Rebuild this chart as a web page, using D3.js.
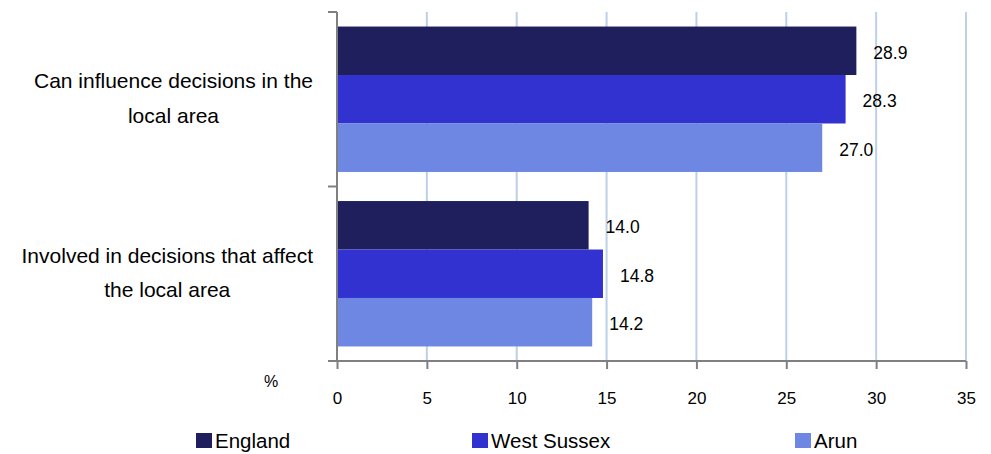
<!DOCTYPE html>
<html>
<head>
<meta charset="utf-8">
<script src="https://cdn.jsdelivr.net/npm/d3@7"></script>
<style>
  body { margin: 0; background: #fff; }
  text { font-family: "Liberation Sans", Arial, sans-serif; fill: #000; }
</style>
</head>
<body>
<div id="chart"></div>
<script>
// chart data
const categories = [
  ["Can influence decisions in the", "local area"],
  ["Involved in decisions that affect", "the local area"]
];
const seriesNames = ["England", "West Sussex", "Arun"];
const england = [28.9, 14.0];
const westSussex = [28.3, 14.8];
const arun = [27.0, 14.2];
const xTicks = [0, 5, 10, 15, 20, 25, 30, 35];
const colors = ["#1f1f5e", "#3232d0", "#6d87e3"];

const width = 991, height = 454;
const margin = {top: 12, left: 337, right: 25, bottom: 93};

let svg = d3.select("#chart").append("svg")
    .attr("width", width)
    .attr("height", height);

let x = d3.scaleLinear()
    .domain([0, 35])
    .range([margin.left, width - margin.right]);

let y = d3.scaleBand()
    .domain(d3.range(categories.length))
    .range([margin.top, height - margin.bottom])
    .paddingInner(0)
    .paddingOuter(0);

let inner = d3.scaleBand()
    .domain(d3.range(seriesNames.length))
    .range([0, y.bandwidth()])
    .paddingOuter(0.3)
    .paddingInner(0);

// gridlines
svg.selectAll(".grid")
    .data(xTicks.slice(1))
    .enter().append("line")
    .attr("x1", d => x(d)).attr("x2", d => x(d))
    .attr("y1", margin.top).attr("y2", height - margin.bottom)
    .attr("stroke", "#bcd0e8")
    .attr("stroke-width", 2);

// bars
let allSeries = [england, westSussex, arun];
categories.forEach((c, ci) => {
    allSeries.forEach((s, si) => {
        let y0 = y(ci) + inner(si);
        svg.append("rect")
            .attr("x", x(0))
            .attr("y", y0)
            .attr("width", x(s[ci]) - x(0))
            .attr("height", inner.bandwidth())
            .attr("fill", colors[si]);
        svg.append("text")
            .attr("x", x(s[ci]) + 17)
            .attr("y", y0 + inner.bandwidth() / 2 + 8)
            .attr("font-size", 17.5)
            .text(s[ci].toFixed(1));
    });
    // category label, wrapped block with right edge near the axis
    let lab = svg.append("text")
        .attr("text-anchor", "middle")
        .attr("font-size", 21);
    let spans = c.map((line, li) => lab.append("tspan")
        .attr("y", y(ci) + y.bandwidth() / 2 - 11 + li * 34.5)
        .text(line));
    let maxW = d3.max(spans, s => s.node().getComputedTextLength());
    spans.forEach(s => s.attr("x", 313 - maxW / 2));
});

// x axis
let xAxis = svg.append("g")
    .attr("transform", `translate(0,${height - margin.bottom})`)
    .call(d3.axisBottom(x).tickValues(xTicks).tickSize(8).tickSizeOuter(0).tickPadding(23));
xAxis.select(".domain").attr("stroke", "#808080").attr("stroke-width", 2);
xAxis.selectAll(".tick line").attr("stroke", "#808080").attr("stroke-width", 2);
xAxis.selectAll(".tick text")
    .attr("font-size", 17)
    .attr("font-family", "Liberation Sans, Arial, sans-serif")
    .attr("fill", "#000");
xAxis.select(".domain").attr("d", `M${x(0) - 9},0H${x(35)}`);

// y axis
let yAxis = svg.append("g")
    .attr("transform", `translate(${x(0)},0)`);
yAxis.append("line")
    .attr("x1", 0).attr("x2", 0)
    .attr("y1", margin.top).attr("y2", height - margin.bottom)
    .attr("stroke", "#808080").attr("stroke-width", 2);
[margin.top, y(1)].forEach(t => {
    yAxis.append("line")
        .attr("x1", -9).attr("x2", 0)
        .attr("y1", t).attr("y2", t)
        .attr("stroke", "#808080").attr("stroke-width", 2);
});

svg.append("text")
    .attr("x", 271)
    .attr("y", 387)
    .attr("text-anchor", "middle")
    .attr("font-size", 16)
    .text("%");

// legend
let legendX = [196, 472, 795];
seriesNames.forEach((n, i) => {
    svg.append("rect")
        .attr("x", legendX[i])
        .attr("y", 433)
        .attr("width", 16)
        .attr("height", 15)
        .attr("fill", colors[i]);
    svg.append("text")
        .attr("x", legendX[i] + 19)
        .attr("y", 448)
        .attr("font-size", 20.5)
        .text(n);
});
</script>
</body>
</html>
